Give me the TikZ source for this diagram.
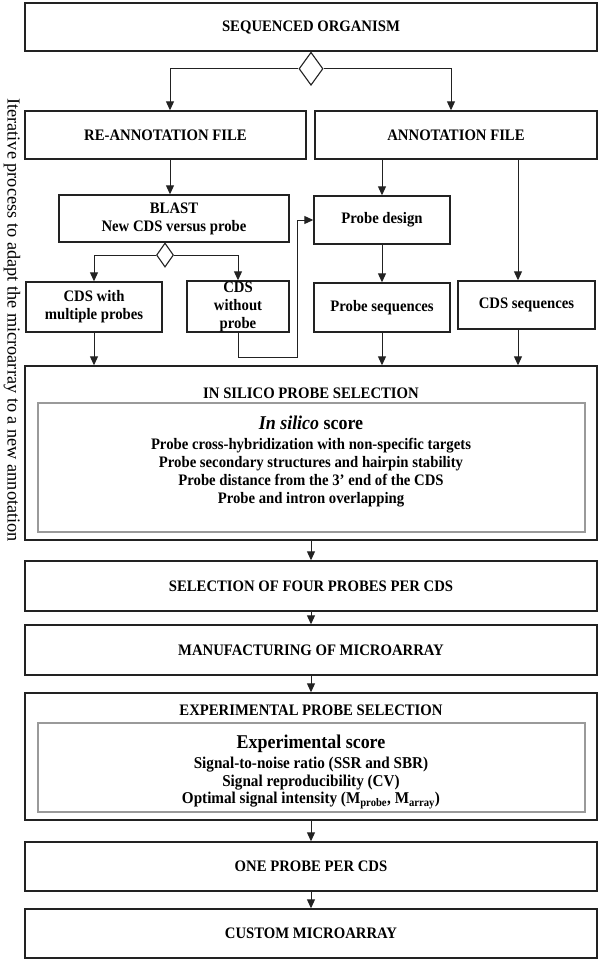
\documentclass[tikz,border=0pt]{standalone}
\usepackage{fontspec}
\setmainfont[FakeStretch=0.92]{Liberation Serif}
\newfontfamily\sidefont{Liberation Serif}
\usepackage{tikz}
\usetikzlibrary{arrows.meta,positioning,shapes.geometric}
\definecolor{lineblack}{HTML}{222222}
\definecolor{boxgray}{HTML}{9A9A9A}

\begin{document}
\begin{tikzpicture}[
  x=1pt, y=-1pt,
  box/.style={rectangle, draw=lineblack, line width=1.4pt, fill=white, align=center, font=\bfseries\fontsize{16}{18}\selectfont, inner sep=2pt},
  wide/.style={box, minimum width=572pt},
  inbox/.style={rectangle, draw=boxgray, line width=1.5pt, minimum width=547pt},
  decision/.style={diamond, draw=lineblack, line width=1.1pt, fill=white, inner sep=0pt},
  title/.style={font=\bfseries\fontsize{16}{18}\selectfont},
  scoretext/.style={align=center, inner sep=0pt, font=\bfseries\fontsize{16}{18}\selectfont},
  arrow/.style={-{Triangle[length=9pt, width=8pt]}, line width=1pt, lineblack}
]
\useasboundingbox (0,0) rectangle (600,961);

% top of the flow
\node[wide, minimum height=48pt] (seq) at (311,27) {SEQUENCED ORGANISM};
\node[decision, minimum width=24pt, minimum height=33pt, below=0pt of seq] (split) {};
\node[box, minimum width=281pt, minimum height=48pt] (reann) at (165.5,135) {RE-ANNOTATION FILE};
\node[box, minimum width=282pt, minimum height=48pt] (ann) at (456,135) {ANNOTATION FILE};

% re-annotation branch
\node[box, minimum width=230pt, minimum height=47pt] (blast) at (174,218.5) {BLAST\\New CDS versus probe};
\node[decision, minimum width=17pt, minimum height=24pt, anchor=north] (blastsplit) at (165,242.5) {};
\node[box, minimum width=136pt, minimum height=50pt] (multi) at (94,307) {CDS with\\multiple probes};
\node[box, minimum width=102pt, minimum height=51pt, inner ysep=0pt] (noprobe) at (238,306.5) {CDS\\without\\probe};
\coordinate (elbow) at (297,357);

% annotation branch
\node[box, minimum width=136pt, minimum height=48pt] (design) at (382,220) {Probe design};
\node[box, minimum width=136pt, minimum height=49pt] (probeseq) at (382,307.5) {Probe sequences};
\node[box, minimum width=137pt, minimum height=48pt] (cdsseq) at (526.5,305) {CDS sequences};

% in silico selection
\node[wide, minimum height=174pt] (insilico) at (311,453) {};
\node[title] (insilicotitle) at (311,393) {IN SILICO PROBE SELECTION};
\node[inbox, minimum height=129pt] (insilicoin) at (311.5,467.5) {};
\node[scoretext, anchor=north] (insilicoscore) at (311,416) {{\fontsize{19.5}{22}\selectfont\textit{In silico} score}\\[2pt]
  Probe cross-hybridization with non-specific targets\\
  Probe secondary structures and hairpin stability\\
  Probe distance from the 3’ end of the CDS\\
  Probe and intron overlapping};

\node[wide, minimum height=50pt] (fourprobes) at (311,586) {SELECTION OF FOUR PROBES PER CDS};
\node[wide, minimum height=50pt] (manufact) at (311,650) {MANUFACTURING OF MICROARRAY};

% experimental selection
\node[wide, minimum height=127pt] (experim) at (311,756.5) {};
\node[title] (experimtitle) at (311,710) {EXPERIMENTAL PROBE SELECTION};
\node[inbox, minimum height=89pt] (experimin) at (311.5,767.5) {};
\node[scoretext, anchor=north, font=\bfseries\fontsize{16.5}{17.5}\selectfont] (experimscore) at (311,735) {{\fontsize{19.5}{22}\selectfont Experimental score}\\[2.5pt]
  Signal-to-noise ratio (SSR and SBR)\\
  Signal reproducibility (CV)\\
  Optimal signal intensity (M\textsubscript{probe}, M\textsubscript{array})};

\node[wide, minimum height=49pt] (oneprobe) at (311,866.5) {ONE PROBE PER CDS};
\node[wide, minimum height=49pt] (custom) at (311,933.5) {CUSTOM MICROARRAY};

\node[rotate=-90, inner sep=0pt, font=\sidefont\fontsize{18.3}{20}\selectfont] (iterative) at (12,320) {Iterative process to adapt the microarray to a new annotation};

% connectors
\draw[arrow] (split.west) -| ([xshift=4.5pt]reann.north);
\draw[arrow] (split.east) -| ([xshift=-5pt]ann.north);
\draw[arrow] ([xshift=4.5pt]reann.south) -- ([xshift=4.5pt]reann.south |- blast.north);
\draw[arrow] (ann.south -| design.north) -- (design.north);
\draw[arrow] ([xshift=-8.5pt]cdsseq.north |- ann.south) -- ([xshift=-8.5pt]cdsseq.north);
\draw[arrow] (blastsplit.west) -| (multi.north);
\draw[arrow] (blastsplit.east) -| (noprobe.north);
\draw[arrow] (noprobe.south) |- (elbow) |- (design.west);
\draw[arrow] (design) -- (probeseq);
\draw[arrow] (multi.south) -- (multi.south |- insilico.north);
\draw[arrow] (probeseq.south) -- (probeseq.south |- insilico.north);
\draw[arrow] ([xshift=-8.5pt]cdsseq.south) -- ([xshift=-8.5pt]cdsseq.south |- insilico.north);
\draw[arrow] (insilico) -- (fourprobes);
\draw[arrow] (fourprobes) -- (manufact);
\draw[arrow] (manufact) -- (experim);
\draw[arrow] (experim) -- (oneprobe);
\draw[arrow] (oneprobe) -- (custom);
\end{tikzpicture}
\end{document}
